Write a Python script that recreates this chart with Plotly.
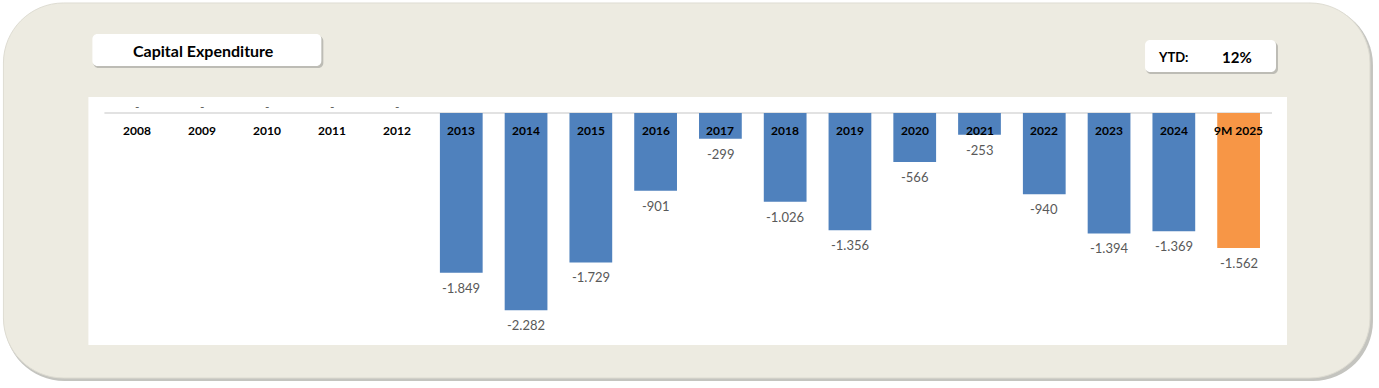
import plotly.graph_objects as go

categories = ["2008", "2009", "2010", "2011", "2012", "2013", "2014", "2015", "2016",
              "2017", "2018", "2019", "2020", "2021", "2022", "2023", "2024", "9M 2025"]
capex = [0, 0, 0, 0, 0, -1849, -2282, -1729, -901, -299, -1026, -1356, -566, -253,
         -940, -1394, -1369, -1562]
bar_colors = ["#4F81BD"] * 17 + ["#F79646"]
title_text = "Capital Expenditure"
ytd_label = "YTD:"
ytd_value = "12%"

W, H = 1379, 388
L, R, T, B = 104.6, 108, 100, 48
PW, PH = W - L - R, H - T - B


def fx(px):
    return (px - L) / PW


def fy(py):
    return (H - B - py) / PH


def rrect(x0, y0, x1, y1, r):
    k = 0.5523 * r

    def p(x, y):
        return f"{fx(x):.5f},{fy(y):.5f}"
    d = f"M {p(x0 + r, y0)} L {p(x1 - r, y0)} "
    d += f"C {p(x1 - r + k, y0)} {p(x1, y0 + r - k)} {p(x1, y0 + r)} "
    d += f"L {p(x1, y1 - r)} "
    d += f"C {p(x1, y1 - r + k)} {p(x1 - r + k, y1)} {p(x1 - r, y1)} "
    d += f"L {p(x0 + r, y1)} "
    d += f"C {p(x0 + r - k, y1)} {p(x0, y1 - r + k)} {p(x0, y1 - r)} "
    d += f"L {p(x0, y0 + r)} "
    d += f"C {p(x0, y0 + r - k)} {p(x0 + r - k, y0)} {p(x0 + r, y0)} Z"
    return d


def fmt(v):
    if v == 0:
        return "-"
    s = f"{abs(v):,.0f}".replace(",", ".")
    return ("-" if v < 0 else "") + s


FONT = "Lato"

fig = go.Figure()
fig.add_trace(go.Bar(
    x=categories, y=capex, marker=dict(color=bar_colors, line=dict(width=0)),
    width=0.66, hoverinfo="skip",
))

shapes = []
# outer panel shadow + panel
shapes.append(dict(type="path", xref="paper", yref="paper", path=rrect(4, 5, 1373, 381, 60),
                   fillcolor="#C4C4BF", line=dict(width=0), layer="below"))
shapes.append(dict(type="path", xref="paper", yref="paper", path=rrect(3, 3, 1370, 378, 60),
                   fillcolor="#EDEBE1", line=dict(color="#DEDCD2", width=1), layer="below"))
# white chart area
shapes.append(dict(type="rect", xref="paper", yref="paper", x0=fx(88), x1=fx(1287),
                   y0=fy(345), y1=fy(97), fillcolor="#FFFFFF", line=dict(width=0), layer="below"))
# zero line
shapes.append(dict(type="line", xref="paper", yref="y", x0=fx(104), x1=fx(1272), y0=0, y1=0,
                   line=dict(color="#D9D9D9", width=1.5), layer="below"))
# title box
shapes.append(dict(type="path", xref="paper", yref="paper", path=rrect(93, 36, 323, 68, 5),
                   fillcolor="#A8A8A2", line=dict(width=0), layer="below", opacity=0.7))
shapes.append(dict(type="path", xref="paper", yref="paper", path=rrect(92, 34, 321, 66, 5),
                   fillcolor="#FFFFFF", line=dict(width=0), layer="below"))
# YTD box
shapes.append(dict(type="path", xref="paper", yref="paper", path=rrect(1146, 42, 1278, 74, 5),
                   fillcolor="#A8A8A2", line=dict(width=0), layer="below", opacity=0.7))
shapes.append(dict(type="path", xref="paper", yref="paper", path=rrect(1145, 40, 1276, 72, 5),
                   fillcolor="#FFFFFF", line=dict(width=0), layer="below"))

annotations = []


def ann(x, y, text, size, color="#000000", **kw):
    d = dict(xref="paper", yref="paper", x=x, y=y, text=text, showarrow=False,
             xanchor="center", yanchor="middle", font=dict(family=FONT, size=size, color=color))
    d.update(kw)
    annotations.append(d)


ann(fx(203), fy(50), f"<b>{title_text}</b>", 16)
ann(fx(1173), fy(57), f"<b>{ytd_label}</b>", 13)
ann(fx(1237), fy(57), f"<b>{ytd_value}</b>", 15)

for i, (c, v) in enumerate(zip(categories, capex)):
    annotations.append(dict(x=i, y=0, xref="x", yref="y", text=f"<b>{c}</b>", showarrow=False,
                            xanchor="center", yanchor="middle", yshift=-17,
                            font=dict(family=FONT, size=12, color="#000000")))
    if v == 0:
        annotations.append(dict(x=i, y=0, xref="x", yref="y", text="-", showarrow=False,
                                xanchor="center", yanchor="middle", yshift=7,
                                font=dict(family=FONT, size=12, color="#595959")))
    else:
        annotations.append(dict(x=i, y=v, xref="x", yref="y", text=fmt(v), showarrow=False,
                                xanchor="center", yanchor="middle", yshift=-15,
                                font=dict(family=FONT, size=13, color="#595959")))

s = 0.0864
fig.update_layout(
    width=W, height=H,
    margin=dict(l=L, r=R, t=T, b=B, pad=0),
    paper_bgcolor="#FFFFFF", plot_bgcolor="rgba(0,0,0,0)",
    showlegend=False,
    shapes=shapes, annotations=annotations,
    xaxis=dict(visible=False, type="category", range=[-0.5, 17.5], fixedrange=True),
    yaxis=dict(visible=False, range=[-(227 / s), 13 / s], fixedrange=True),
)

fig.write_html("out.html", config={"displayModeBar": False},
               post_script="document.body.style.margin='0';document.body.style.overflow='hidden';")
